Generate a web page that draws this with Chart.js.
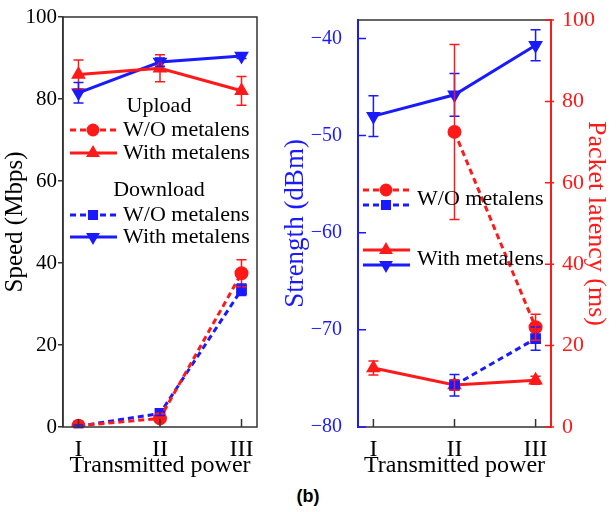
<!DOCTYPE html>
<html>
<head>
<meta charset="utf-8">
<script src="https://cdn.jsdelivr.net/npm/chart.js@4.4.1/dist/chart.umd.min.js"></script>
<style>
  body { margin: 0; background: #fff; width: 616px; height: 512px; position: relative; overflow: hidden; }
  .box { position: absolute; top: 0; }
  #caption { position: absolute; left: 0; width: 616px; top: 486px; text-align: center;
             font: bold 18px "Liberation Sans", Arial, sans-serif; color: #000; }
</style>
</head>
<body>
<div class="box" style="left:0"><canvas id="speedChart" width="280" height="480"></canvas></div>
<div class="box" style="left:280px"><canvas id="strengthChart" width="331" height="480"></canvas></div>
<div id="caption">(b)</div>
<script>
// ---- data ----
const categories = ["I", "II", "III"];

// left panel: speed (Mbps)
const uploadWo = [0.3, 2.1, 37.5];
const uploadWoErr = [0.4, 0.6, 3.3];
const uploadWith = [86, 87.5, 82];
const uploadWithErr = [3.5, 3.3, 3.5];
const downloadWo = [0.2, 3.3, 33.5];
const downloadWoErr = [0.3, 0.5, 1.4];
const downloadWith = [81.5, 89, 90.5];
const downloadWithErr = [2.5, 1.0, 0.6];

// right panel: strength (dBm) and packet latency (ms)
const strengthWo = [null, -75.7, -70.9];
const strengthWoErr = [0, 1.1, 1.2];
const strengthWith = [-48, -45.8, -40.7];
const strengthWithErr = [2.1, 2.2, 1.6];
const latencyWo = [null, 72.5, 24.5];
const latencyWoErr = [0, 21.5, 3.2];
const latencyWith = [14.5, 10.3, 11.5];
const latencyWithErr = [1.7, 1.3, 1.0];

const strengthTicks = [-80, -70, -60, -50, -40];

const RED = "#ff1a1a";
const BLUE = "#1a1aff";
const SERIF = "'Liberation Serif', 'Times New Roman', serif";

function pts(values) {
    return values.map((v, i) => ({ x: i, y: v }));
}

function series(label, values, err, color, dashed, style, rot, axis) {
    return {
        label: label,
        data: pts(values),
        err: err,
        yAxisID: axis || "y",
        borderColor: color,
        backgroundColor: color,
        borderWidth: 3,
        borderDash: dashed ? [6, 4] : [],
        pointStyle: style,
        pointRotation: rot || 0,
        pointRadius: 5.5,
        pointHoverRadius: 5.5,
        tension: 0,
        spanGaps: false,
    };
}

// error bars, drawn from the datasets through the chart scales
const errorBars = {
    id: "errorBars",
    afterDatasetsDraw(chart) {
        const ctx = chart.ctx;
        const xs = chart.scales.x;
        chart.data.datasets.forEach((ds) => {
            if (!ds.err) return;
            const ys = chart.scales[ds.yAxisID];
            ctx.save();
            ctx.strokeStyle = ds.borderColor;
            ctx.lineWidth = 1.5;
            ds.data.forEach((p, i) => {
                if (p.y == null || !ds.err[i]) return;
                const px = xs.getPixelForValue(p.x);
                const top = ys.getPixelForValue(p.y + ds.err[i]);
                const bot = ys.getPixelForValue(p.y - ds.err[i]);
                ctx.beginPath();
                ctx.moveTo(px, top); ctx.lineTo(px, bot);
                ctx.moveTo(px - 5, top); ctx.lineTo(px + 5, top);
                ctx.moveTo(px - 5, bot); ctx.lineTo(px + 5, bot);
                ctx.stroke();
            });
            ctx.restore();
        });
    },
};

// inward tick marks on the x axis
const xTicksIn = {
    id: "xTicksIn",
    afterDraw(chart) {
        const ctx = chart.ctx;
        const xs = chart.scales.x;
        const b = chart.chartArea.bottom;
        ctx.save();
        ctx.strokeStyle = "#333";
        ctx.lineWidth = 1.5;
        categories.forEach((c, i) => {
            const px = xs.getPixelForValue(i);
            ctx.beginPath();
            ctx.moveTo(px, b); ctx.lineTo(px, b - 8);
            ctx.stroke();
        });
        ctx.restore();
    },
};

function legendLine(ctx, x, y, color, dashed, style, rot) {
    ctx.save();
    ctx.strokeStyle = color;
    ctx.fillStyle = color;
    ctx.lineWidth = 3;
    ctx.setLineDash(dashed ? [6, 4] : []);
    ctx.beginPath();
    ctx.moveTo(x, y); ctx.lineTo(x + 47, y);
    ctx.stroke();
    ctx.setLineDash([]);
    Chart.helpers.drawPoint(ctx, { pointStyle: style, radius: 5, rotation: rot || 0, borderWidth: 1 }, x + 23, y);
    ctx.restore();
}

function legendText(ctx, text, x, y, align) {
    ctx.save();
    ctx.fillStyle = "#000";
    ctx.font = "22px " + SERIF;
    ctx.textAlign = align || "left";
    ctx.textBaseline = "middle";
    ctx.fillText(text, x, y);
    ctx.restore();
}

const speedDecor = {
    id: "speedDecor",
    afterDraw(chart) {
        const ctx = chart.ctx;
        const a = chart.chartArea;
        ctx.save();
        ctx.strokeStyle = "#333";
        ctx.lineWidth = 1.5;
        ctx.strokeRect(a.left, a.top, a.right - a.left, a.bottom - a.top);
        ctx.restore();
        legendText(ctx, "Upload", 159, 106, "center");
        legendLine(ctx, 70, 130, RED, true, "circle");
        legendText(ctx, "W/O metalens", 123, 130);
        legendLine(ctx, 70, 153, RED, false, "triangle");
        legendText(ctx, "With metalens", 123, 153);
        legendText(ctx, "Download", 159, 190, "center");
        legendLine(ctx, 70, 215, BLUE, true, "rect");
        legendText(ctx, "W/O metalens", 123, 215);
        legendLine(ctx, 70, 237, BLUE, false, "triangle", 180);
        legendText(ctx, "With metalens", 123, 237);
    },
};

const strengthDecor = {
    id: "strengthDecor",
    afterDraw(chart) {
        const ctx = chart.ctx;
        const a = chart.chartArea;
        ctx.save();
        ctx.lineWidth = 1.5;
        ctx.strokeStyle = "#333";
        ctx.beginPath();
        ctx.moveTo(a.left, a.top); ctx.lineTo(a.right, a.top);
        ctx.moveTo(a.left, a.bottom); ctx.lineTo(a.right, a.bottom);
        ctx.stroke();
        // blue ticks point into the plot, red ticks cross the axis
        ctx.strokeStyle = BLUE;
        ctx.beginPath();
        strengthTicks.forEach((v) => {
            const py = chart.scales.y.getPixelForValue(v);
            ctx.moveTo(a.left, py); ctx.lineTo(a.left + 8, py);
        });
        ctx.stroke();
        ctx.strokeStyle = RED;
        ctx.beginPath();
        chart.scales.y1.ticks.forEach((t) => {
            const py = chart.scales.y1.getPixelForValue(t.value);
            ctx.moveTo(a.right - 6, py); ctx.lineTo(a.right + 3, py);
        });
        ctx.stroke();
        ctx.restore();
        const x0 = a.left + 5;
        legendLine(ctx, x0, 190, RED, true, "circle");
        legendLine(ctx, x0, 205, BLUE, true, "rect");
        legendText(ctx, "W/O metalens", x0 + 54, 199);
        legendLine(ctx, x0, 250, RED, false, "triangle");
        legendLine(ctx, x0, 265, BLUE, false, "triangle", 180);
        legendText(ctx, "With metalens", x0 + 54, 259);
    },
};

function xAxis(height) {
    return {
        type: "linear",
        min: -0.19,
        max: 2.19,
        afterBuildTicks: (s) => { s.ticks = categories.map((c, i) => ({ value: i })); },
        afterFit: (s) => { s.height = height; },
        ticks: {
            callback: (v) => categories[v],
            color: "#000",
            font: { family: SERIF, size: 24 },
            padding: 0,
            maxRotation: 0,
        },
        grid: { display: false },
        border: { display: false },
        title: {
            display: true,
            text: "Transmitted power",
            color: "#000",
            font: { family: SERIF, size: 24 },
            padding: { top: -5, bottom: 0 },
        },
    };
}

document.addEventListener("DOMContentLoaded", function () {
    // Speed panel
    new Chart(document.getElementById("speedChart").getContext("2d"), {
        type: "line",
        data: {
            datasets: [
                series("Upload W/O metalens", uploadWo, uploadWoErr, RED, true, "circle"),
                series("Upload With metalens", uploadWith, uploadWithErr, RED, false, "triangle"),
                series("Download W/O metalens", downloadWo, downloadWoErr, BLUE, true, "rect"),
                series("Download With metalens", downloadWith, downloadWithErr, BLUE, false, "triangle", 180),
            ],
        },
        options: {
            responsive: false,
            animation: false,
            layout: { padding: { top: 17, right: 23, left: 0, bottom: 0 } },
            plugins: { legend: { display: false }, tooltip: { enabled: false } },
            scales: {
                x: xAxis(53),
                y: {
                    min: 0,
                    max: 100,
                    afterFit: (s) => { s.width = 63; },
                    ticks: { stepSize: 20, color: "#000", font: { family: SERIF, size: 21 }, padding: 1 },
                    grid: { drawOnChartArea: false, tickLength: 5, color: "#333", lineWidth: 1.5 },
                    border: { color: "#333", width: 1.5 },
                    title: {
                        display: true,
                        text: "Speed (Mbps)",
                        color: "#000",
                        font: { family: SERIF, size: 25 },
                        padding: { top: 0, bottom: 0 },
                    },
                },
            },
        },
        plugins: [errorBars, xTicksIn, speedDecor],
    });

    // Strength / latency panel
    new Chart(document.getElementById("strengthChart").getContext("2d"), {
        type: "line",
        data: {
            datasets: [
                series("Strength W/O metalens", strengthWo, strengthWoErr, BLUE, true, "rect", 0, "y"),
                series("Strength With metalens", strengthWith, strengthWithErr, BLUE, false, "triangle", 180, "y"),
                series("Latency W/O metalens", latencyWo, latencyWoErr, RED, true, "circle", 0, "y1"),
                series("Latency With metalens", latencyWith, latencyWithErr, RED, false, "triangle", 0, "y1"),
            ],
        },
        options: {
            responsive: false,
            animation: false,
            layout: { padding: { top: 19, right: 0, left: 0, bottom: 0 } },
            plugins: { legend: { display: false }, tooltip: { enabled: false } },
            scales: {
                x: xAxis(53),
                y: {
                    position: "left",
                    min: -80,
                    max: -38.1,
                    afterBuildTicks: (s) => { s.ticks = strengthTicks.map((v) => ({ value: v })); },
                    afterFit: (s) => { s.width = 78; },
                    ticks: {
                        color: BLUE,
                        font: { family: SERIF, size: 20 },
                        padding: 8,
                        callback: (v) => String(v).replace("-", "\u2212"),
                    },
                    grid: { display: false },
                    border: { color: BLUE, width: 2 },
                    title: {
                        display: true,
                        text: "Strength (dBm)",
                        color: BLUE,
                        font: { family: SERIF, size: 27 },
                        padding: { top: 0, bottom: 0 },
                    },
                },
                y1: {
                    position: "right",
                    min: 0,
                    max: 100,
                    afterFit: (s) => { s.width = 60; },
                    ticks: { stepSize: 20, color: RED, font: { family: SERIF, size: 22 }, padding: 3 },
                    grid: { display: false },
                    border: { color: RED, width: 2 },
                    title: {
                        display: true,
                        text: "Packet latency (ms)",
                        color: RED,
                        font: { family: SERIF, size: 26 },
                        padding: { top: 0, bottom: 0 },
                    },
                },
            },
        },
        plugins: [errorBars, xTicksIn, strengthDecor],
    });
});
</script>
</body>
</html>
